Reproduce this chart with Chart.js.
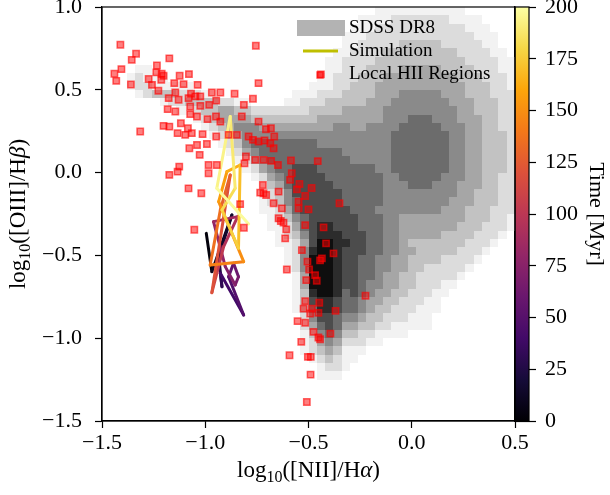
<!DOCTYPE html>
<html>
<head>
<meta charset="utf-8">
<script src="https://cdn.jsdelivr.net/npm/chart.js@4.4.1/dist/chart.umd.min.js"></script>
<style>
  html, body { margin: 0; padding: 0; background: #fff; }
</style>
</head>
<body>
<canvas id="bpt" width="610" height="495"></canvas>
<script>
// Local HII regions (log [NII]/Ha, log [OIII]/Hb)
const hiiX = [
  -1.411, -1.335, -1.356, -1.406, -1.440, -1.431, -1.360, -1.174, -1.234, -1.237,
  -1.211, -1.202, -1.274, -1.258, -1.213, -1.124, -1.079, -1.150, -1.105, -1.037,
  -1.227, -1.177, -1.145, -1.129, -1.081, -1.048, -1.069, -1.024, -0.968, -0.927,
  -0.947, -0.981, -1.024, -1.073, -0.858, -0.769, -0.813, -0.755, -0.742, -0.440,
  -1.182, -1.145, -1.073, -1.040, -0.989, -0.948, -0.927, -0.823, -1.202, -1.174,
  -1.118, -1.084, -1.315, -1.134, -1.097, -1.065, -1.013, -0.947, -1.077, -1.040,
  -0.992, -1.027, -0.887, -0.847, -0.742, -0.706, -0.682, -0.790, -0.769, -0.742,
  -0.713, -0.685, -0.666, -0.669, -0.803, -0.810, -0.758, -0.718, -0.681, -0.648,
  -0.585, -0.455, -0.984, -0.984, -0.944, -1.126, -1.134, -1.174, -1.081, -1.019,
  -0.718, -0.705, -0.721, -0.734, -0.645, -0.581, -0.589, -0.544, -0.556, -0.516,
  -0.485, -0.669, -0.629, -0.548, -0.548, -0.500, -0.350, -0.645, -0.634, -0.621,
  -0.608, -0.613, -0.516, -0.427, -0.532, -0.415, -0.379, -0.435, -0.444, -0.505,
  -0.497, -0.511, -0.468, -0.460, -0.605, -1.053, -0.813, -0.831, -0.224, -0.516,
  -0.448, -0.524, -0.484, -0.492, -0.452, -0.369, -0.553, -0.516, -0.476, -0.452,
  -0.444, -0.394, -0.535, -0.592, -0.503, -0.489, -0.490, -0.508
];
const hiiY = [
  0.772, 0.718, 0.681, 0.625, 0.597, 0.554, 0.532, 0.690, 0.647, 0.605,
  0.597, 0.585, 0.565, 0.530, 0.560, 0.585, 0.595, 0.540, 0.534, 0.530,
  0.494, 0.450, 0.484, 0.440, 0.450, 0.460, 0.476, 0.460, 0.484, 0.484,
  0.435, 0.409, 0.403, 0.399, 0.476, 0.446, 0.409, 0.766, 0.540, 0.593,
  0.383, 0.369, 0.353, 0.339, 0.323, 0.339, 0.308, 0.339, 0.282, 0.278,
  0.298, 0.268, 0.248, 0.238, 0.228, 0.238, 0.232, 0.218, 0.147, 0.167,
  0.173, 0.107, 0.228, 0.228, 0.308, 0.262, 0.268, 0.218, 0.198, 0.188,
  0.194, 0.177, 0.218, 0.147, 0.097, 0.056, 0.077, 0.077, 0.071, 0.046,
  0.073, 0.069, 0.046, -0.004, 0.046, 0.036, 0.006, -0.014, -0.095, -0.125,
  -0.125, -0.135, -0.075, -0.121, -0.115, -0.004, -0.044, -0.069, -0.101, -0.141,
  -0.093, -0.185, -0.216, -0.175, -0.216, -0.222, -0.185, -0.276, -0.292, -0.302,
  -0.343, -0.397, -0.317, -0.331, -0.468, -0.427, -0.488, -0.518, -0.530, -0.538,
  -0.585, -0.649, -0.619, -0.653, -0.585, -0.345, -0.333, -0.190, -0.744, -0.776,
  -0.786, -0.821, -0.821, -0.851, -0.847, -0.835, -0.897, -0.907, -0.962, -0.996,
  -1.006, -0.972, -1.022, -1.103, -1.113, -1.113, -1.220, -1.385
];

// simulated track, one vertex per output time
const simTime = [0, 6, 12, 20, 28, 35, 45, 52, 58, 64, 70, 76, 82, 90, 98,
  106, 115, 125, 132, 140, 147, 153, 160, 167, 174, 180, 186, 192, 196, 200];
const simX = [-0.995, -0.968, -0.871, -0.935, -0.919, -0.927, -0.814, -0.887, -0.863, -0.839,
  -0.855, -0.903, -0.960, -0.843, -0.911, -0.944, -0.968, -0.879, -0.927, -0.976,
  -0.814, -0.935, -0.895, -0.831, -0.839, -0.919, -0.855, -0.879, -0.944, -0.790];
const simY = [-0.367, -0.598, -0.256, -0.508, -0.689, -0.608, -0.860, -0.629, -0.548, -0.629,
  -0.679, -0.568, -0.296, -0.266, -0.447, -0.608, -0.725, -0.014, -0.226, -0.558,
  -0.538, -0.175, 0.006, 0.046, -0.457, -0.226, -0.095, 0.339, -0.095, -0.310];
const timeMax = 200;

// SDSS DR8 density, 50 x 50 bins, top row first; '.' = empty, 1..9 = darker
const sdssXMin = -1.5, sdssXStep = 0.04;
const sdssYMax = 1.0, sdssYStep = 0.05;
const sdssRows = [
  '.......... .......... .......... ...1111111 1111......',
  '.......... .......... .......... .111122222 221111....',
  '.......... .......... .......... 1112222222 2222111...',
  '.......... .......... .........1 1122222222 22222111..',
  '.......... .......... .........1 1222223333 32222211..',
  '.......... .......... ........11 2222333333 333222211.',
  '.......... .......... .......112 2223333333 3333222211',
  '....11.... .......... .......112 2233334444 4333322211',
  '...12111.. .......... ......1122 2333444444 4443332221',
  '...1221111 1......... .....11122 3334444444 4444333221',
  '....123332 2211...... ...1112223 3334445555 5444333222',
  '.......122 33332211.. ..11222333 3344455555 5544433322',
  '.........1 1233443322 2222233334 4444555555 5554433322',
  '.......... .123444433 3333334444 4444555666 5554443322',
  '.......... ..12345554 4444444455 4455556666 6555443322',
  '.......... ...1234555 5555555555 5555566666 6655443332',
  '.......... ....123566 6666665555 5555566666 6655443332',
  '.......... .....12456 6666666665 5555566666 6655443332',
  '.......... ......1245 6666666666 5555566666 6655443332',
  '.......... .......124 5667776666 6665566666 6655443332',
  '.......... ........12 4567777666 6666556666 6555443322',
  '.......... .........1 3467777766 6666555666 5554443322',
  '.......... .........1 2357777776 6666555555 5554433322',
  '.......... .........1 2356777776 6666555555 5544433322',
  '.......... .........1 1246777777 6665555555 5444333222',
  '.......... .......... 1235677777 7666554444 4444333221',
  '.......... .......... 1124678877 7666554444 4443332221',
  '.......... .......... .123578887 7766554444 433332221.',
  '.......... .......... .112479988 7766554333 33332221..',
  '.......... .......... ..12589987 7766554433 3332221...',
  '.......... .......... ..12599987 7665544333 322221....',
  '.......... .......... ..12599987 7665544332 22221.....',
  '.......... .......... ...1499987 7665443322 2221......',
  '.......... .......... ...1499987 7655443322 211.......',
  '.......... .......... ...1389986 7654433222 11........',
  '.......... .......... ...1378876 6544332221 1.........',
  '.......... .......... ...1368876 6543322211 1.........',
  '.......... .......... ....257765 5433222111 ..........',
  '.......... .......... ....246764 4332211111 ..........',
  '.......... .......... ....135653 3221111... ..........',
  '.......... .......... ....124542 2211...... ..........',
  '.......... .......... ....123431 11........ ..........',
  '.......... .......... .....12321 1......... ..........',
  '.......... .......... ......1221 .......... ..........',
  '.......... .......... ......111. .......... ..........',
  '.......... .......... .......... .......... ..........',
  '.......... .......... .......... .......... ..........',
  '.......... .......... .......... .......... ..........',
  '.......... .......... .......... .......... ..........',
  '.......... .......... .......... .......... ..........'
].map(r => r.replace(/ /g, ''));

const greyShade = [255, 242, 220, 194, 166, 138, 108, 76, 44, 14];
const infernoStops = ['#000004', '#160b39', '#420a68', '#6a176e', '#932667', '#bc3754',
  '#dd513a', '#f37819', '#fca50a', '#f6d746', '#fcffa4'];
const ink = '#000';
const serif = "'Liberation Serif', 'DejaVu Serif', serif";

function hexRgb(h) {
  return [1, 3, 5].map(k => parseInt(h.slice(k, k + 2), 16));
}
function inferno(f) {
  f = Math.min(1, Math.max(0, f));
  const p = f * (infernoStops.length - 1);
  const k = Math.min(Math.floor(p), infernoStops.length - 2);
  const a = hexRgb(infernoStops[k]), b = hexRgb(infernoStops[k + 1]);
  const t = p - k;
  const c = a.map((v, n) => Math.round(v + (b[n] - v) * t));
  return `rgb(${c[0]},${c[1]},${c[2]})`;
}
function tidy(v) {
  const r = Math.round(v * 10) / 10;
  return (r < 0 ? '\u2212' : '') + Math.abs(r).toFixed(1);
}

// text made of runs: [text, size, shiftDown, italic]
function drawRuns(ctx, runs, cx, cy, angle) {
  ctx.save();
  ctx.translate(cx, cy);
  ctx.rotate(angle);
  ctx.fillStyle = ink;
  ctx.textBaseline = 'alphabetic';
  let total = 0;
  const widths = runs.map(r => {
    ctx.font = `${r[3] ? 'italic ' : ''}${r[1]}px ${serif}`;
    const w = ctx.measureText(r[0]).width;
    total += w;
    return w;
  });
  let x = -total / 2;
  runs.forEach((r, i) => {
    ctx.font = `${r[3] ? 'italic ' : ''}${r[1]}px ${serif}`;
    ctx.fillText(r[0], x, 7 + r[2]);
    x += widths[i];
  });
  ctx.restore();
}

const decor = {
  id: 'bptDecor',
  beforeDatasetsDraw(chart) {
    const { ctx, scales: { x, y } } = chart;
    ctx.save();
    sdssRows.forEach((row, j) => {
      const y0 = Math.round(y.getPixelForValue(sdssYMax - j * sdssYStep));
      const y1 = Math.round(y.getPixelForValue(sdssYMax - (j + 1) * sdssYStep));
      for (let i = 0; i < row.length; i++) {
        if (row[i] === '.') continue;
        const g = greyShade[+row[i]];
        const x0 = Math.round(x.getPixelForValue(sdssXMin + i * sdssXStep));
        const x1 = Math.round(x.getPixelForValue(sdssXMin + (i + 1) * sdssXStep));
        ctx.fillStyle = `rgb(${g},${g},${g})`;
        ctx.fillRect(x0, y0, x1 - x0, y1 - y0);
      }
    });
    ctx.restore();
  },
  afterDraw(chart) {
    const { ctx, chartArea: a } = chart;
    const t = chart.scales.time;
    ctx.save();

    // colour bar next to the axes
    const top = t.getPixelForValue(timeMax), bot = t.getPixelForValue(0);
    const grad = ctx.createLinearGradient(0, bot, 0, top);
    infernoStops.forEach((c, k) => grad.addColorStop(k / (infernoStops.length - 1), c));
    ctx.fillStyle = grad;
    ctx.fillRect(a.right, top, 14, bot - top);
    ctx.strokeStyle = ink;
    ctx.lineWidth = 1.2;
    ctx.strokeRect(a.right, top, 14, bot - top);
    ctx.strokeRect(a.left, a.top, a.right - a.left, a.bottom - a.top);

    // legend
    ctx.font = `19px ${serif}`;
    ctx.textBaseline = 'middle';
    ctx.fillStyle = '#b3b3b3';
    ctx.fillRect(297, 20, 48, 16);
    ctx.strokeStyle = '#bfbf00';
    ctx.lineWidth = 2.8;
    ctx.beginPath();
    ctx.moveTo(303, 51);
    ctx.lineTo(338, 51);
    ctx.stroke();
    ctx.fillStyle = 'rgba(255,0,0,0.5)';
    ctx.strokeStyle = 'rgba(255,0,0,0.6)';
    ctx.lineWidth = 1.5;
    ctx.fillRect(317, 72, 6, 6);
    ctx.strokeRect(317, 72, 6, 6);
    ctx.fillStyle = ink;
    ctx.fillText('SDSS DR8', 349, 28);
    ctx.fillText('Simulation', 349, 51);
    ctx.fillText('Local HII Regions', 349, 74);

    // axis titles
    drawRuns(ctx, [['log', 23, 0], ['10', 16, 5], ['([NII]/H', 23, 0], ['\u03b1', 23, 0, true], [')', 23, 0]],
      (a.left + a.right) / 2, 470, 0);
    drawRuns(ctx, [['log', 23, 0], ['10', 16, 5], ['([OIII]/H', 23, 0], ['\u03b2', 23, 0, true], [')', 23, 0]],
      18, (a.top + a.bottom) / 2, -Math.PI / 2);
    drawRuns(ctx, [['Time [Myr]', 22, 0]], 597, (a.top + a.bottom) / 2, Math.PI / 2);
    ctx.restore();
  }
};

const tickGrid = { drawOnChartArea: false, tickLength: 7, tickColor: ink, tickWidth: 1.2 };
const edge = { color: ink, width: 1.2 };

new Chart(document.getElementById('bpt'), {
  type: 'scatter',
  data: {
    datasets: [
      {
        label: 'Local HII Regions',
        data: hiiX.map((v, i) => ({ x: v, y: hiiY[i] })),
        pointStyle: 'rect',
        pointRadius: 4.5,
        pointHoverRadius: 4.5,
        backgroundColor: 'rgba(255,0,0,0.5)',
        borderColor: 'rgba(255,0,0,0.6)',
        borderWidth: 1.5,
        order: 0
      },
      {
        label: 'Simulation',
        data: simX.map((v, i) => ({ x: v, y: simY[i] })),
        showLine: true,
        pointRadius: 0,
        borderWidth: 3,
        borderCapStyle: 'round',
        borderJoinStyle: 'round',
        borderColor: inferno(1),
        segment: {
          borderColor: c => inferno((simTime[c.p0DataIndex] + simTime[c.p1DataIndex]) / 2 / timeMax)
        },
        order: 1
      }
    ]
  },
  options: {
    responsive: false,
    animation: false,
    events: [],
    layout: { padding: { top: 7, left: 0, right: 0, bottom: 0 } },
    plugins: {
      legend: { display: false },
      tooltip: { enabled: false }
    },
    scales: {
      x: {
        type: 'linear',
        min: -1.5,
        max: 0.5,
        ticks: { stepSize: 0.5, padding: 2, color: ink, font: { family: serif, size: 22 }, callback: tidy, maxRotation: 0 },
        grid: tickGrid,
        border: edge,
        afterFit: s => { s.height = 74; s.paddingLeft = 0; s.paddingRight = 0; }
      },
      y: {
        type: 'linear',
        position: 'left',
        min: -1.5,
        max: 1.0,
        ticks: { stepSize: 0.5, padding: 13, color: ink, font: { family: serif, size: 22 }, callback: tidy },
        grid: tickGrid,
        border: edge,
        afterFit: s => { s.width = 102; s.paddingTop = 0; s.paddingBottom = 0; }
      },
      time: {
        type: 'linear',
        position: 'right',
        min: 0,
        max: timeMax,
        ticks: { stepSize: 25, padding: 9, color: ink, font: { family: serif, size: 22 } },
        grid: { drawOnChartArea: false, tickLength: 21, tickColor: ink, tickWidth: 1.2 },
        border: edge,
        afterFit: s => { s.width = 95; s.paddingTop = 0; s.paddingBottom = 0; }
      }
    }
  },
  plugins: [decor]
});
</script>
</body>
</html>
